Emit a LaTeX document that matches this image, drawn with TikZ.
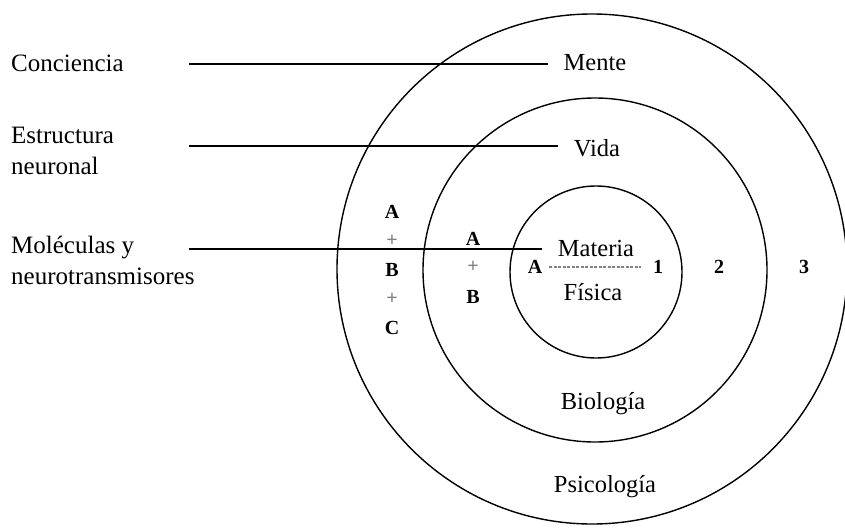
\documentclass[tikz,border=0pt]{standalone}
\usepackage{fontspec}
\setmainfont{Liberation Serif}
\usetikzlibrary{positioning}

\begin{document}
\begin{tikzpicture}[
        x=1pt, y=-1pt,
        ring/.style={
          draw,
          circle,
          line width=1.4pt,
          inner sep=0pt
        },
        sidetext/.style={
          font=\fontsize{25}{31}\selectfont,
          inner sep=0pt,
          align=left,
          anchor=west
        },
        ringtext/.style={
          font=\fontsize{24.5}{28}\selectfont,
          inner sep=2pt
        },
        letter/.style={
          font=\fontsize{20}{24}\selectfont\bfseries,
          inner sep=2pt
        },
        plussign/.style={
          letter,
          text=gray
        },
        lead/.style={
          line width=1.3pt,
          shorten >=14pt
        }
      ]
      \useasboundingbox (0,0) rectangle (845,527);

      % the three levels
      \node[ring, minimum size=510pt] (outer) at (592,269) {};
      \node[ring, minimum size=344pt] (middle) at (595,270) {};
      \node[ring, minimum size=172pt] (inner) at (596,272) {};

      % names of the levels
      \node[ringtext] (mente) at (595,63) {Mente};
      \node[ringtext] (vida) at (597,148) {Vida};
      \node[ringtext] (materia) at (596,249) {Materia};
      \node[ringtext] (fisica) at (593,292) {Física};
      \node[ringtext] (biologia) at (603,404) {Biología};
      \node[ringtext] (psicologia) at (605,487) {Psicología};

      % left side
      \node[sidetext] (conciencia) at (11,63) {Conciencia};
      \node[sidetext] (estructura) at (11,151) {Estructura\\neuronal};
      \node[sidetext] (moleculas) at (11,260) {Moléculas y\\neurotransmisores};

      \coordinate (c1) at (189,64);
      \coordinate (c2) at (189,146);
      \coordinate (c3) at (189,249);

      \draw[lead] (c1) -- (c1 -| mente.west);
      \draw[lead] (c2) -- (c2 -| vida.west);
      \draw[lead] (c3) -- (c3 -| materia.west);

      % letters in the rings
      \node[letter] (a3) at (392,212) {A};
      \node[plussign] (p31) at (392,241) {+};
      \node[letter] (b3) at (392,270) {B};
      \node[plussign] (p32) at (392,299) {+};
      \node[letter] (c3l) at (392,328) {C};

      \node[letter] (a2) at (473,239) {A};
      \node[plussign] (p21) at (473,267) {+};
      \node[letter] (b2) at (473,297) {B};

      \node[letter] (a1) at (535,267) {A};
      \node[letter] (n1) at (658,267) {1};
      \node[letter] (n2) at (719,267) {2};
      \node[letter] (n3) at (804,267) {3};

      \draw[gray, line width=1.2pt, dash pattern=on 3pt off 1.5pt,
            shorten <=5pt, shorten >=10pt] (a1) -- (n1);

      \end{tikzpicture}
\end{document}
